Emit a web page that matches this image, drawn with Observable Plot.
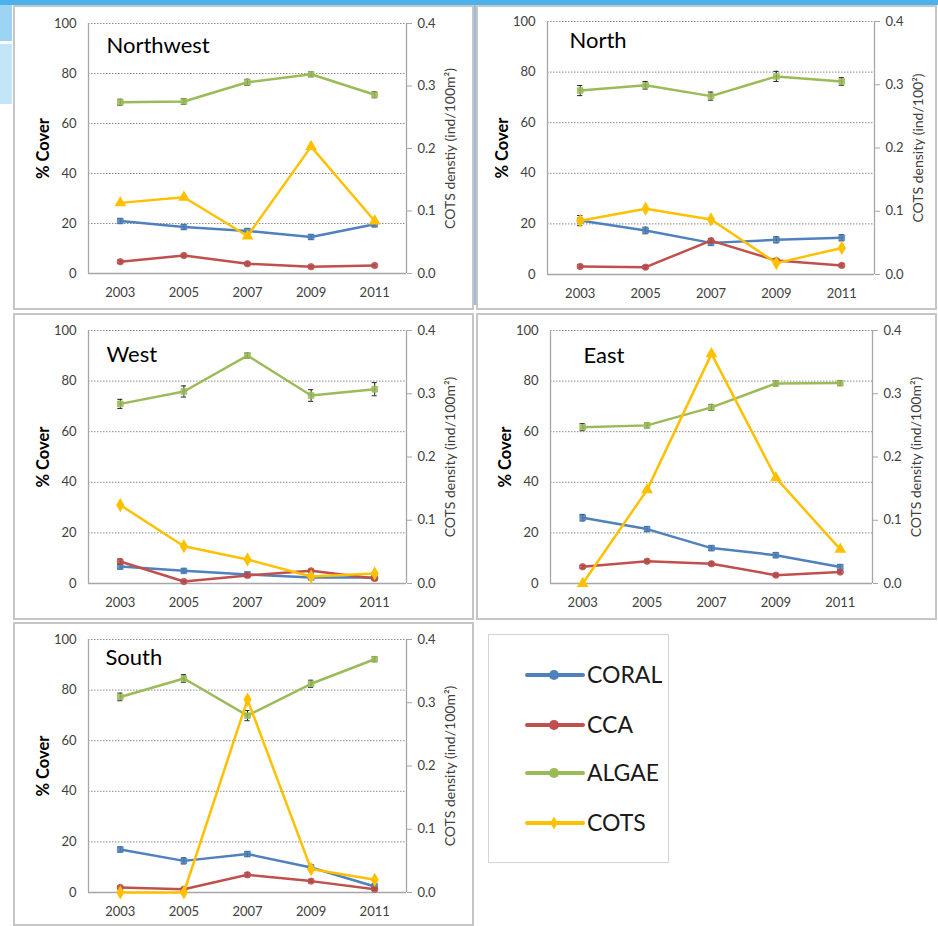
<!DOCTYPE html>
<html>
<head>
<meta charset="utf-8">
<script src="https://cdn.jsdelivr.net/npm/d3@7"></script>
<script src="https://cdn.jsdelivr.net/npm/@observablehq/plot@0.6"></script>
<style>
  body { margin: 0; background: #fff; font-family: Lato, "Open Sans", sans-serif; }
  #page { position: relative; width: 938px; height: 926px; overflow: hidden; background: #fff; }
  .deco { position: absolute; }
  .panel { position: absolute; box-sizing: border-box; border: 2px solid #c6c6c6; background: #fff; }
  .chart { position: absolute; }
  .legend { position: absolute; box-sizing: border-box; border: 1px solid #d4d4d4; background: #fff; }
</style>
</head>
<body>
<div id="page"></div>
<script>
// ---------------- data ----------------
const years = [2003, 2005, 2007, 2009, 2011];
const regions = ["Northwest", "North", "West", "East", "South"];
const seriesNames = ["CORAL", "CCA", "ALGAE", "COTS"];

// % cover, one row per region (same order as regions)
const coralCover = [
  [21.0, 18.6, 17.0, 14.6, 19.7],
  [21.3, 17.4, 12.5, 13.7, 14.5],
  [6.7, 5.0, 3.6, 2.4, 2.4],
  [26.0, 21.5, 14.0, 11.2, 6.5],
  [17.0, 12.5, 15.2, 9.9, 2.4]
];
const coralError = [
  [1.0, 1.0, 1.0, 1.0, 1.0],
  [2.0, 1.3, 1.0, 1.2, 1.2],
  [1.0, 0.8, 0.8, 0.8, 0.8],
  [1.3, 1.0, 1.0, 1.0, 1.0],
  [1.0, 1.2, 1.0, 1.2, 1.0]
];
const ccaCover = [
  [4.7, 7.2, 3.9, 2.7, 3.2],
  [3.2, 2.9, 13.4, 5.5, 3.6],
  [8.7, 0.8, 3.2, 5.0, 2.0],
  [6.6, 8.8, 7.8, 3.3, 4.5],
  [2.0, 1.3, 7.0, 4.5, 1.3]
];
const ccaError = [
  [0.6, 0.6, 0.6, 0.5, 0.5],
  [0.6, 0.6, 0.8, 0.6, 0.6],
  [1.0, 0.5, 0.6, 0.6, 0.6],
  [0.6, 0.6, 0.6, 0.5, 0.5],
  [0.5, 0.5, 0.8, 0.6, 0.5]
];
const algaeCover = [
  [68.5, 68.8, 76.5, 79.7, 71.5],
  [72.7, 74.8, 70.5, 78.3, 76.3],
  [71.0, 75.9, 90.1, 74.3, 76.8],
  [61.8, 62.5, 69.6, 79.1, 79.2],
  [77.3, 84.6, 69.9, 82.5, 92.2]
];
const algaeError = [
  [1.2, 1.2, 1.2, 1.0, 1.2],
  [2.0, 1.5, 1.6, 2.0, 1.5],
  [1.8, 2.2, 1.0, 2.3, 2.6],
  [1.4, 1.0, 1.2, 1.0, 1.0],
  [1.5, 1.5, 2.0, 1.4, 1.0]
];
// COTS density (ind/100m2), secondary axis
const cotsDensity = [
  [0.113, 0.122, 0.060, 0.203, 0.084],
  [0.085, 0.104, 0.087, 0.018, 0.042],
  [0.124, 0.059, 0.038, 0.011, 0.016],
  [0.000, 0.148, 0.363, 0.167, 0.054],
  [0.000, 0.000, 0.305, 0.037, 0.020]
];

const coverTicks = [0, 20, 40, 60, 80, 100];
const cotsTicks = [0, 0.1, 0.2, 0.3, 0.4];
const coverLabel = "% Cover";
const cotsLabels = [
  "COTS denstiy (ind/100m²)",
  "COTS density (ind/100²)",
  "COTS density (ind/100m²)",
  "COTS density (ind/100m²)",
  "COTS density (ind/100m²)"
];

// ---------------- styles / layout ----------------
const colors = { CORAL: "#4F81BD", CCA: "#C0504D", ALGAE: "#9BBB59", COTS: "#FFC000" };
const symbols = { CORAL: "square", CCA: "circle", ALGAE: "square" };
const cotsSymbols = ["triangle", "diamond", "diamond", "triangle", "diamond"];
const coverDomain = [0, 100];
const cotsDomain = [0, 0.4];
const xDomain = [2002, 2012];

// box: panel frame on the page; plot: inner plotting rectangle (page coords)
const layout = [
  { box: [13, 5, 461, 305],   plot: [88, 23, 406, 273],  title: [18, 14] },
  { box: [476, 5, 461, 305],  plot: [547, 21, 874, 274], title: [22, 11] },
  { box: [13, 313, 461, 307], plot: [88, 330, 406, 583], title: [18, 16] },
  { box: [476, 313, 461, 307],plot: [550, 330, 872, 583],title: [33, 17] },
  { box: [13, 622, 461, 304], plot: [88, 639, 406, 892], title: [17, 10] }
];

const page = document.getElementById("page");

function addDiv(cls, x, y, w, h, bg) {
  const d = document.createElement("div");
  d.className = cls;
  Object.assign(d.style, { left: x + "px", top: y + "px", width: w + "px", height: h + "px" });
  if (bg) d.style.background = bg;
  page.appendChild(d);
  return d;
}

// slide decoration
addDiv("deco", 0, 0, 938, 5, "#4DB2EA");
addDiv("deco", 0, 5, 12, 36, "#9ED4F3");
addDiv("deco", 0, 44, 12, 60, "#C3E5F8");
addDiv("deco", 473, 5, 3, 300, "#9DBBD2");

const k = coverDomain[1] / cotsDomain[1];

function makePanel(i) {
  const L = layout[i];
  const [bx, by, bw, bh] = L.box;
  const [pl, pt, pr, pb] = L.plot;
  addDiv("panel", bx, by, bw, bh);

  const rows = years.map((year, j) => ({
    year,
    CORAL: coralCover[i][j], CORALerr: coralError[i][j],
    CCA: ccaCover[i][j], CCAerr: ccaError[i][j],
    ALGAE: algaeCover[i][j], ALGAEerr: algaeError[i][j],
    COTS: cotsDensity[i][j] * k
  }));

  const cap = 0.08;
  const seriesMarks = [];
  for (const s of ["CORAL", "CCA", "ALGAE"]) {
    seriesMarks.push(
      Plot.line(rows, { x: "year", y: s, stroke: colors[s], strokeWidth: 2.5 }),
      Plot.ruleX(rows, { x: "year", y1: d => d[s] - d[s + "err"], y2: d => d[s] + d[s + "err"], stroke: "#222", strokeWidth: 1 }),
      Plot.ruleY(rows, { y: d => d[s] + d[s + "err"], x1: d => d.year - cap, x2: d => d.year + cap, stroke: "#222", strokeWidth: 1 }),
      Plot.ruleY(rows, { y: d => d[s] - d[s + "err"], x1: d => d.year - cap, x2: d => d.year + cap, stroke: "#222", strokeWidth: 1 }),
      Plot.dot(rows, { x: "year", y: s, symbol: symbols[s], r: 3.2, fill: colors[s], stroke: colors[s], strokeWidth: 0.8, fillOpacity: 0.85 })
    );
  }
  seriesMarks.push(
    Plot.line(rows, { x: "year", y: "COTS", stroke: colors.COTS, strokeWidth: 2.5 }),
    Plot.dot(rows, { x: "year", y: "COTS", symbol: cotsSymbols[i], r: 3.4, fill: colors.COTS, stroke: colors.COTS })
  );

  const chart = Plot.plot({
    width: bw,
    height: bh,
    marginLeft: pl - bx,
    marginRight: bx + bw - pr,
    marginTop: pt - by,
    marginBottom: by + bh - pb,
    x: { type: "linear", domain: xDomain },
    y: { type: "linear", domain: coverDomain },
    style: { fontFamily: "Lato, 'Open Sans', sans-serif", fontSize: "12px", color: "#404040", background: "transparent", overflow: "visible" },
    marks: [
      Plot.gridY({ ticks: coverTicks.filter(t => t > 0), stroke: "#8a8a8a", strokeOpacity: 1, strokeWidth: 1, strokeDasharray: "1.5 1.5" }),
      Plot.ruleY([coverDomain[0]], { stroke: "#a6a6a6", strokeWidth: 1.3 }),
      Plot.ruleX([xDomain[0]], { stroke: "#a6a6a6", strokeWidth: 1.3 }),
      Plot.ruleX([xDomain[1]], { stroke: "#a6a6a6", strokeWidth: 1.3 }),
      Plot.axisY({ ticks: coverTicks, tickSize: 0, tickPadding: 12, label: null, fontSize: 13, fill: "#404040" }),
      Plot.axisY({ anchor: "right", ticks: cotsTicks.map(t => t * k), tickFormat: d => (d / k).toFixed(1), tickSize: 5, tickPadding: 6, stroke: "#a6a6a6", fill: "#404040", label: null, fontSize: 13 }),
      Plot.axisX({ ticks: years, tickFormat: d => String(d), tickSize: 0, tickPadding: 14, label: null, fontSize: 13, fill: "#404040" }),
      Plot.text([coverLabel], { text: d => d, frameAnchor: "left", rotate: -90, dx: -45, textAnchor: "middle", lineAnchor: "middle", fontSize: 16.5, fontWeight: "bold", fill: "#000" }),
      Plot.text([cotsLabels[i]], { text: d => d, frameAnchor: "right", rotate: -90, dx: 44, textAnchor: "middle", lineAnchor: "middle", fontSize: 14, fill: "#404040" }),
      Plot.text([regions[i]], { text: d => d, frameAnchor: "top-left", dx: L.title[0], dy: L.title[1], lineAnchor: "top", textAnchor: "start", fontSize: 22, fill: "#000" }),
      ...seriesMarks
    ]
  });
  chart.classList.add("chart");
  chart.style.left = bx + "px";
  chart.style.top = by + "px";
  page.appendChild(chart);
}

regions.forEach((_, i) => makePanel(i));

// legend
const legendBox = [488, 634, 181, 229];
const lg = addDiv("legend", ...legendBox);
const svg = d3.select(lg).append("svg")
  .attr("width", legendBox[2]).attr("height", legendBox[3])
  .style("position", "absolute").style("left", "-1px").style("top", "-1px");
const rowY = [41, 91, 139, 189];
seriesNames.forEach((name, j) => {
  const g = svg.append("g").attr("transform", `translate(0,${rowY[j]})`);
  g.append("line").attr("x1", 39).attr("x2", 95).attr("y1", 0).attr("y2", 0)
    .attr("stroke", colors[name]).attr("stroke-width", 4).attr("stroke-linecap", "round");
  const sym = name === "COTS" ? d3.symbolDiamond : d3.symbolCircle;
  g.append("path").attr("transform", "translate(66,0)")
    .attr("d", d3.symbol(sym, name === "COTS" ? 50 : 80)())
    .attr("fill", colors[name]);
  g.append("text").attr("x", 99).attr("y", 0).attr("dy", "0.35em")
    .attr("font-size", 23).attr("font-family", "Lato, 'Open Sans', sans-serif")
    .attr("fill", "#1a1a1a").text(name);
});
</script>
</body>
</html>
